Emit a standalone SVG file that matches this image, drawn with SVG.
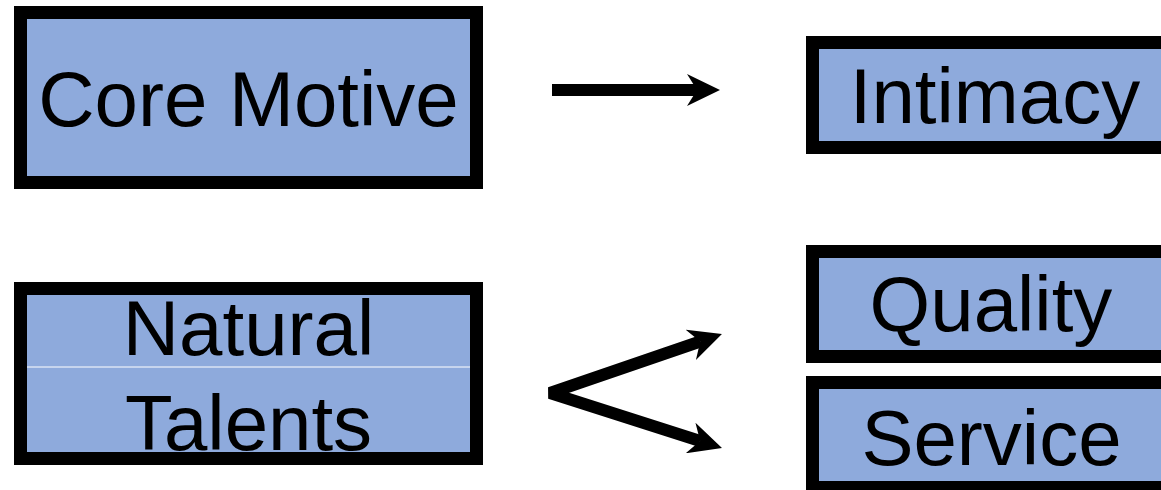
<svg xmlns="http://www.w3.org/2000/svg" width="1161" height="490" viewBox="0 0 1161 490">
<style>
.box{fill:#8EAADC;stroke:#000;stroke-width:13}
.lbl{font-family:"Liberation Sans",Arial,sans-serif;font-size:78px;fill:#000;text-anchor:middle}
.conn{fill:none;stroke:#000;stroke-width:12;stroke-linejoin:bevel}
</style>
<defs>
<marker id="ah" markerUnits="userSpaceOnUse" viewBox="0 0 33 32" markerWidth="33" markerHeight="32" refX="10" refY="16" orient="auto-start-reverse">
<path d="M0,0 L33,16 L0,32 L10,16 Z" fill="#000"/>
</marker>
</defs>
<rect width="1161" height="490" fill="#fff"/>
<g id="core-motive">
<rect class="box" x="20.5" y="12.5" width="456" height="170"/>
<text class="lbl" x="248.5" y="126">Core Motive</text>
</g>
<g id="natural-talents">
<rect class="box" x="20.5" y="288.5" width="456" height="170"/>
<line x1="27" y1="367" x2="470" y2="367" stroke="#fff" stroke-width="1"/>
<text class="lbl" x="248.5" y="355">Natural</text>
<text class="lbl" x="248.5" y="450">Talents</text>
</g>
<g id="intimacy">
<rect class="box" x="812.5" y="42.5" width="370" height="105"/>
<text class="lbl" x="995" y="123">Intimacy</text>
</g>
<g id="quality">
<rect class="box" x="812.5" y="251.5" width="370" height="105"/>
<text class="lbl" x="991" y="331">Quality</text>
</g>
<g id="service">
<rect class="box" x="812.5" y="382.5" width="370" height="105"/>
<text class="lbl" x="991.5" y="465">Service</text>
</g>
<g id="connectors">
<path class="conn" d="M552,90 L697,90" marker-end="url(#ah)"/>
<path class="conn" d="M700.2,341.5 L550,393 L700.1,441" marker-start="url(#ah)" marker-end="url(#ah)"/>
</g>
</svg>
